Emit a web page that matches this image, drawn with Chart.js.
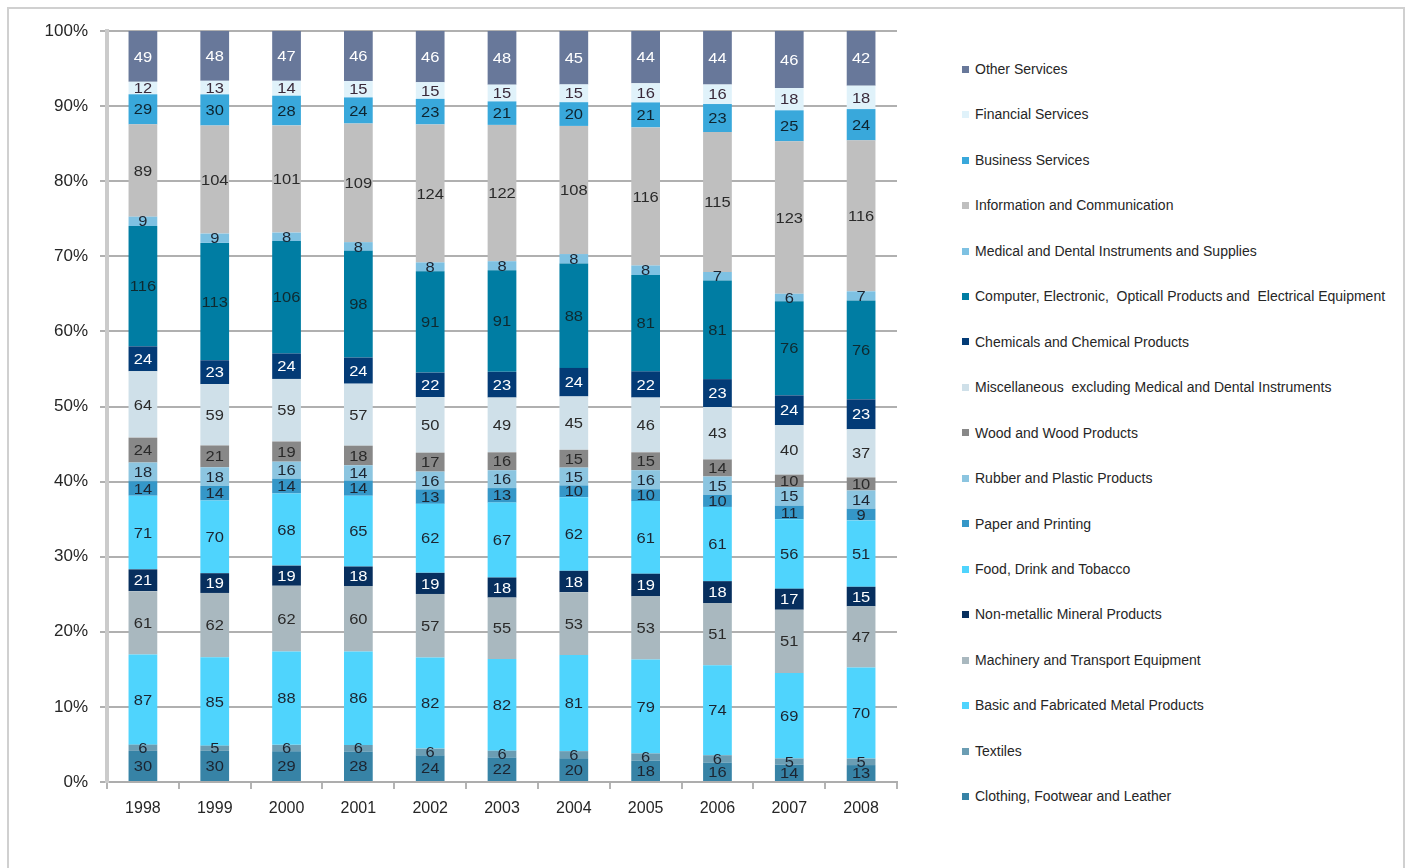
<!DOCTYPE html>
<html>
<head>
<meta charset="utf-8">
<title>Sector shares 1998-2008</title>
<script src="https://cdn.jsdelivr.net/npm/chart.js@4.4.0/dist/chart.umd.min.js"></script>
<style>
  body { margin: 0; background: #fff; width: 1411px; height: 868px; overflow: hidden; position: relative; font-family: "Liberation Sans", Arial, sans-serif; }
  #frame { position: absolute; left: 7px; top: 7px; width: 1394px; height: 880px; border: 2px solid #d0d0d0; }
  #chart { position: absolute; left: 0; top: 0; }
  #legend { position: absolute; left: 0; top: 0; }
  .item { position: absolute; left: 962px; white-space: nowrap; font-size: 14px; color: #262626; line-height: 16px; height: 16px; }
  .item .box { display: inline-block; width: 7px; height: 7px; margin-right: 6px; position: relative; top: -1px; vertical-align: middle; }
</style>
</head>
<body>
<div id="frame"></div>
<canvas id="chart" width="900" height="868"></canvas>
<div id="legend"></div>
<script>
// categories
const years = ['1998', '1999', '2000', '2001', '2002', '2003', '2004', '2005', '2006', '2007', '2008'];

// series values, bottom of the stack first
const clothing      = [30, 30, 29, 28, 24, 22, 20, 18, 16, 14, 13];
const textiles      = [6, 5, 6, 6, 6, 6, 6, 6, 6, 5, 5];
const basicMetal    = [87, 85, 88, 86, 82, 82, 81, 79, 74, 69, 70];
const machinery     = [61, 62, 62, 60, 57, 55, 53, 53, 51, 51, 47];
const nonMetallic   = [21, 19, 19, 18, 19, 18, 18, 19, 18, 17, 15];
const food          = [71, 70, 68, 65, 62, 67, 62, 61, 61, 56, 51];
const paper         = [14, 14, 14, 14, 13, 13, 10, 10, 10, 11, 9];
const rubber        = [18, 18, 16, 14, 16, 16, 15, 16, 15, 15, 14];
const wood          = [24, 21, 19, 18, 17, 16, 15, 15, 14, 10, 10];
const misc          = [64, 59, 59, 57, 50, 49, 45, 46, 43, 40, 37];
const chemicals     = [24, 23, 24, 24, 22, 23, 24, 22, 23, 24, 23];
const computer      = [116, 113, 106, 98, 91, 91, 88, 81, 81, 76, 76];
const medical       = [9, 9, 8, 8, 8, 8, 8, 8, 7, 6, 7];
const infoComm      = [89, 104, 101, 109, 124, 122, 108, 116, 115, 123, 116];
const business      = [29, 30, 28, 24, 23, 21, 20, 21, 23, 25, 24];
const financial     = [12, 13, 14, 15, 15, 15, 15, 16, 16, 18, 18];
const otherServices = [49, 48, 47, 46, 46, 48, 45, 44, 44, 46, 42];

const seriesNames = [
  'Clothing, Footwear and Leather',
  'Textiles',
  'Basic and Fabricated Metal Products',
  'Machinery and Transport Equipment',
  'Non-metallic Mineral Products',
  'Food, Drink and Tobacco',
  'Paper and Printing',
  'Rubber and Plastic Products',
  'Wood and Wood Products',
  'Miscellaneous  excluding Medical and Dental Instruments',
  'Chemicals and Chemical Products',
  'Computer, Electronic,  Opticall Products and  Electrical Equipment',
  'Medical and Dental Instruments and Supplies',
  'Information and Communication',
  'Business Services',
  'Financial Services',
  'Other Services'
];
const seriesValues = [clothing, textiles, basicMetal, machinery, nonMetallic, food, paper, rubber,
  wood, misc, chemicals, computer, medical, infoComm, business, financial, otherServices];
const seriesColors = ['#3783a6', '#6b9db3', '#4fd4fd', '#a9b8bf', '#072f5e', '#4fd4fd', '#3597c8', '#8cc5e0',
  '#888888', '#cfe0e9', '#033b76', '#007da3', '#7ec1e2', '#bfbfbf', '#39a8db', '#e0f2fa', '#68789a'];
const labelColors = ['#1c2430', '#1c2430', '#1c2430', '#2a2a2a', '#ffffff', '#1c2430', '#1c2430', '#1c2430',
  '#2a2a2a', '#2a2a2a', '#ffffff', '#0e2a30', '#1c2430', '#2a2a2a', '#0e2430', '#3a2a3a', '#ffffff'];
const yTicks = [0, 10, 20, 30, 40, 50, 60, 70, 80, 90, 100];

// each year adds up to 100%
const totals = years.map((y, j) => seriesValues.reduce((s, arr) => s + arr[j], 0));

const datasets = seriesValues.map((vals, i) => ({
  label: seriesNames[i],
  data: vals.map((v, j) => v / totals[j] * 100),
  values: vals,
  labelColor: labelColors[i],
  backgroundColor: seriesColors[i],
  borderWidth: 0,
  barPercentage: 0.4,
  categoryPercentage: 1.0
}));

const fontFamily = '"Liberation Sans", Arial, sans-serif';

// numbers inside the segments
const valueLabels = {
  id: 'valueLabels',
  afterDatasetsDraw(chart) {
    const ctx = chart.ctx;
    ctx.save();
    ctx.font = '15px ' + fontFamily;
    ctx.textAlign = 'center';
    ctx.textBaseline = 'middle';
    chart.data.datasets.forEach((ds, i) => {
      chart.getDatasetMeta(i).data.forEach((bar, j) => {
        ctx.save();
        ctx.translate(bar.x, (bar.y + bar.base) / 2 + 1);
        ctx.scale(1.1, 1);
        ctx.fillStyle = ds.labelColor;
        ctx.fillText(String(ds.values[j]), 0, 0);
        ctx.restore();
      });
    });
    ctx.restore();
  }
};

new Chart(document.getElementById('chart'), {
  type: 'bar',
  data: { labels: years, datasets: datasets },
  options: {
    responsive: false,
    animation: false,
    layout: { padding: { top: 31, right: 3, left: 0, bottom: 0 } },
    plugins: {
      legend: { display: false },
      tooltip: { enabled: false }
    },
    scales: {
      x: {
        stacked: true,
        grid: { display: true, drawOnChartArea: false, offset: true, tickLength: 7, color: '#b4b4b4', lineWidth: 2 },
        border: { color: '#adadad', width: 2 },
        ticks: { color: '#262626', padding: 10, font: { size: 16, family: fontFamily } },
        afterFit(scale) { scale.height = 86; }
      },
      y: {
        stacked: true,
        min: 0,
        max: 100,
        afterBuildTicks(scale) { scale.ticks = yTicks.map(v => ({ value: v })); },
        grid: { color: '#b0b0b0', lineWidth: 2, tickLength: 7 },
        border: { color: '#cbcbcb', width: 4 },
        ticks: {
          color: '#262626',
          padding: 12,
          font: { size: 17, family: fontFamily },
          callback: v => v + '%'
        },
        afterFit(scale) { scale.width = 107; }
      }
    }
  },
  plugins: [valueLabels]
});

// legend on the right, top series first
const legend = document.getElementById('legend');
const firstY = 69, stepY = 45.45;
for (let k = 0; k < seriesNames.length; k++) {
  const i = seriesNames.length - 1 - k;
  const el = document.createElement('div');
  el.className = 'item';
  el.style.top = (firstY + k * stepY - 8) + 'px';
  el.innerHTML = '<span class="box" style="background:' + seriesColors[i] + '"></span>' + seriesNames[i].replace(/  /g, ' &nbsp;');
  legend.appendChild(el);
}
</script>
</body>
</html>
